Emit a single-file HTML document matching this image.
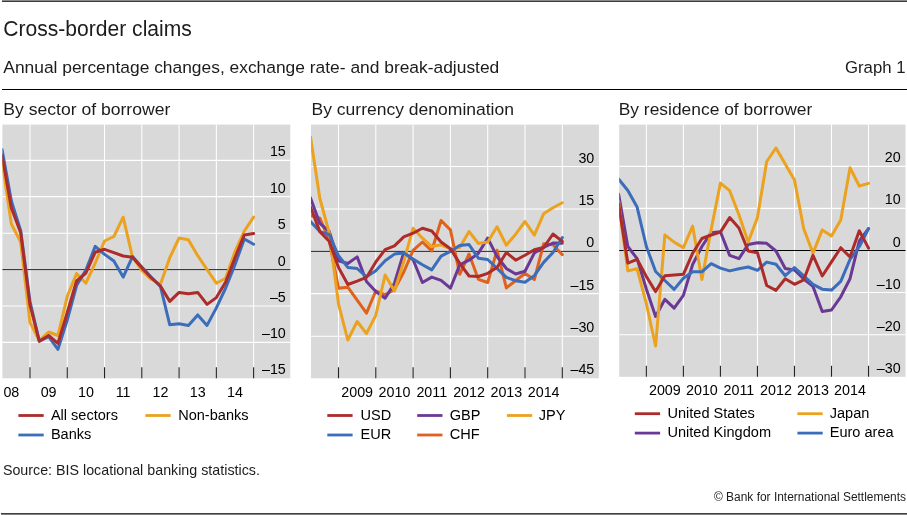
<!DOCTYPE html>
<html lang="en"><head><meta charset="utf-8"><title>Cross-border claims</title>
<style>html,body{margin:0;padding:0;background:#fff}svg{display:block;will-change:transform}.ui{font-family:"Liberation Sans","DejaVu Sans",sans-serif;fill:#1c1c1c}.ax{font-family:"Liberation Sans",sans-serif;font-size:14.3px;fill:#000}.s{fill:none;stroke-width:3.0;stroke-linejoin:round;stroke-linecap:round}</style></head><body>
<svg width="907" height="515" viewBox="0 0 907 515">
<rect width="907" height="515" fill="#fff"/>
<rect x="2" y="0" width="905" height="1" fill="#8a8a8a"/><rect x="2" y="1" width="905" height="1" fill="#3c3c3c"/>
<rect x="2" y="89" width="905" height="1" fill="#000"/>
<rect x="1" y="513" width="906" height="1" fill="#404040"/><rect x="1" y="514" width="906" height="1" fill="#808080"/>
<text class="ui" x="3.3" y="36.4" font-size="21.6" textLength="188.5" lengthAdjust="spacingAndGlyphs">Cross-border claims</text>
<text class="ui" x="3.3" y="73" font-size="17.2" textLength="496" lengthAdjust="spacingAndGlyphs">Annual percentage changes, exchange rate- and break-adjusted</text>
<text class="ui" x="905.5" y="73" font-size="17.2" text-anchor="end" textLength="60.5" lengthAdjust="spacingAndGlyphs">Graph 1</text>
<text class="ui" x="3.3" y="115.3" font-size="16.6" textLength="167" lengthAdjust="spacingAndGlyphs">By sector of borrower</text>
<text class="ui" x="311.5" y="115.3" font-size="16.6" textLength="202.5" lengthAdjust="spacingAndGlyphs">By currency denomination</text>
<text class="ui" x="618.7" y="115.3" font-size="16.6" textLength="193.5" lengthAdjust="spacingAndGlyphs">By residence of borrower</text>
<g>
<rect x="2.40" y="124.60" width="287.90" height="253.70" fill="#d9d9d9"/>
<path d="M30.00 124.60V378.30M67.27 124.60V378.30M104.54 124.60V378.30M141.81 124.60V378.30M179.08 124.60V378.30M216.35 124.60V378.30M253.62 124.60V378.30" stroke="#fff" stroke-width="1.05" fill="none"/>
<path d="M2.40 160.40H290.30M2.40 196.60H290.30M2.40 233.20H290.30M2.40 306.00H290.30M2.40 342.30H290.30" stroke="#fff" stroke-width="1.15" fill="none"/>
<path d="M2.40 269.60H290.30" stroke="#2a2a2a" stroke-width="1" fill="none"/>
<path d="M30.00 367.30V378.30M67.27 367.30V378.30M104.54 367.30V378.30M141.81 367.30V378.30M179.08 367.30V378.30M216.35 367.30V378.30M253.62 367.30V378.30" stroke="#222" stroke-width="1.1" fill="none"/>
<clipPath id="c1"><rect x="2.40" y="124.60" width="287.90" height="253.70"/></clipPath>
<g clip-path="url(#c1)">
<polyline class="s" stroke="#eba21f" points="2.05,161.00 11.37,224.00 20.69,242.00 30.00,322.50 39.32,340.50 48.64,332.00 57.95,335.50 67.27,296.30 76.59,273.60 85.91,283.20 95.23,263.00 104.54,241.00 113.86,236.50 123.18,217.20 132.50,257.00 141.81,270.50 151.13,279.30 160.45,284.30 169.77,257.70 179.08,238.00 188.40,239.70 197.72,255.70 207.04,269.50 216.35,283.20 225.67,278.20 234.99,251.60 244.31,231.00 253.62,217.20"/>
<polyline class="s" stroke="#3b6dba" points="2.05,149.50 11.37,201.00 20.69,230.60 30.00,301.50 39.32,341.20 48.64,336.60 57.95,349.30 67.27,320.00 76.59,285.50 85.91,270.00 95.23,246.40 104.54,254.40 113.86,261.00 123.18,277.10 132.50,256.60 141.81,267.00 151.13,277.00 160.45,286.50 169.77,324.80 179.08,323.70 188.40,325.40 197.72,314.90 207.04,325.40 216.35,307.90 225.67,288.00 234.99,264.70 244.31,239.00 253.62,244.30"/>
<polyline class="s" stroke="#ad2b2b" points="2.05,155.50 11.37,208.00 20.69,232.80 30.00,305.00 39.32,341.30 48.64,335.50 57.95,343.30 67.27,312.50 76.59,281.00 85.91,273.00 95.23,252.20 104.54,249.30 113.86,252.60 123.18,256.00 132.50,257.30 141.81,267.70 151.13,277.70 160.45,286.00 169.77,301.40 179.08,292.40 188.40,293.80 197.72,292.40 207.04,304.40 216.35,297.60 225.67,282.10 234.99,257.70 244.31,234.90 253.62,233.50"/>
</g>
<text class="ax" x="285.80" y="156.40" text-anchor="end">15</text>
<text class="ax" x="285.80" y="192.60" text-anchor="end">10</text>
<text class="ax" x="285.80" y="229.20" text-anchor="end">5</text>
<text class="ax" x="285.80" y="265.60" text-anchor="end">0</text>
<text class="ax" x="285.80" y="302.00" text-anchor="end">–5</text>
<text class="ax" x="285.80" y="338.30" text-anchor="end">–10</text>
<text class="ax" x="285.80" y="374.30" text-anchor="end">–15</text>
<text class="ax" x="11.36" y="396.60" text-anchor="middle">08</text>
<text class="ax" x="48.64" y="396.60" text-anchor="middle">09</text>
<text class="ax" x="85.91" y="396.60" text-anchor="middle">10</text>
<text class="ax" x="123.17" y="396.60" text-anchor="middle">11</text>
<text class="ax" x="160.44" y="396.60" text-anchor="middle">12</text>
<text class="ax" x="197.72" y="396.60" text-anchor="middle">13</text>
<text class="ax" x="234.99" y="396.60" text-anchor="middle">14</text>
</g>
<g>
<rect x="311.00" y="124.60" width="287.90" height="253.70" fill="#d9d9d9"/>
<path d="M338.50 124.60V378.30M375.80 124.60V378.30M413.10 124.60V378.30M450.40 124.60V378.30M487.70 124.60V378.30M525.00 124.60V378.30M562.30 124.60V378.30" stroke="#fff" stroke-width="1.05" fill="none"/>
<path d="M311.00 166.50H598.90M311.00 209.00H598.90M311.00 293.60H598.90M311.00 336.20H598.90" stroke="#fff" stroke-width="1.15" fill="none"/>
<path d="M311.00 251.40H598.90" stroke="#2a2a2a" stroke-width="1" fill="none"/>
<path d="M338.50 367.30V378.30M375.80 367.30V378.30M413.10 367.30V378.30M450.40 367.30V378.30M487.70 367.30V378.30M525.00 367.30V378.30M562.30 367.30V378.30" stroke="#222" stroke-width="1.1" fill="none"/>
<clipPath id="c2"><rect x="311.00" y="124.60" width="287.90" height="253.70"/></clipPath>
<g clip-path="url(#c2)">
<polyline class="s" stroke="#e0611c" points="310.52,215.50 319.85,218.20 329.17,240.00 338.50,288.30 347.82,287.20 357.15,300.10 366.47,313.20 375.80,291.00 385.12,294.90 394.45,289.50 403.77,272.00 413.10,250.40 422.42,242.00 431.75,250.90 441.07,220.50 450.40,229.90 459.72,274.30 469.05,254.00 478.38,279.30 487.70,282.50 497.02,250.30 506.35,287.90 515.67,280.50 525.00,273.50 534.32,279.60 543.65,243.80 552.97,244.70 562.30,254.70"/>
<polyline class="s" stroke="#6a3996" points="310.52,198.00 319.85,223.40 329.17,231.30 338.50,260.80 347.82,263.50 357.15,256.90 366.47,281.50 375.80,291.60 385.12,298.20 394.45,283.30 403.77,252.50 413.10,259.80 422.42,282.50 431.75,277.10 441.07,280.40 450.40,288.20 459.72,264.90 469.05,260.20 478.38,253.30 487.70,238.10 497.02,256.50 506.35,268.50 515.67,274.00 525.00,271.30 534.32,253.00 543.65,247.50 552.97,243.00 562.30,243.30"/>
<polyline class="s" stroke="#eba21f" points="310.52,137.00 319.85,198.50 329.17,232.60 338.50,303.80 347.82,340.00 357.15,321.50 366.47,333.50 375.80,315.40 385.12,275.00 394.45,291.00 403.77,261.50 413.10,228.20 422.42,238.20 431.75,246.50 441.07,244.80 450.40,249.00 459.72,247.60 469.05,231.50 478.38,243.50 487.70,242.00 497.02,226.80 506.35,245.20 515.67,234.20 525.00,221.50 534.32,235.20 543.65,213.80 552.97,207.70 562.30,202.70"/>
<polyline class="s" stroke="#3b6dba" points="310.52,221.50 319.85,231.60 329.17,234.50 338.50,255.80 347.82,267.40 357.15,268.50 366.47,276.80 375.80,270.70 385.12,260.80 394.45,254.10 403.77,253.00 413.10,258.90 422.42,264.80 431.75,269.90 441.07,256.20 450.40,251.30 459.72,245.40 469.05,244.60 478.38,258.20 487.70,259.50 497.02,268.40 506.35,277.40 515.67,280.70 525.00,282.30 534.32,275.70 543.65,262.40 552.97,252.50 562.30,237.50"/>
<polyline class="s" stroke="#ad2b2b" points="310.52,207.00 319.85,231.60 329.17,241.20 338.50,267.40 347.82,284.50 357.15,281.20 366.47,277.40 375.80,261.90 385.12,249.70 394.45,245.80 403.77,236.80 413.10,233.20 422.42,228.20 431.75,231.00 441.07,242.00 450.40,248.70 459.72,263.40 469.05,276.00 478.38,276.50 487.70,273.30 497.02,267.50 506.35,252.50 515.67,260.20 525.00,255.20 534.32,249.70 543.65,247.50 552.97,234.00 562.30,241.40"/>
</g>
<text class="ax" x="594.30" y="162.50" text-anchor="end">30</text>
<text class="ax" x="594.30" y="205.00" text-anchor="end">15</text>
<text class="ax" x="594.30" y="247.40" text-anchor="end">0</text>
<text class="ax" x="594.30" y="289.60" text-anchor="end">–15</text>
<text class="ax" x="594.30" y="332.20" text-anchor="end">–30</text>
<text class="ax" x="594.30" y="374.30" text-anchor="end">–45</text>
<text class="ax" x="357.15" y="396.60" text-anchor="middle">2009</text>
<text class="ax" x="394.45" y="396.60" text-anchor="middle">2010</text>
<text class="ax" x="431.75" y="396.60" text-anchor="middle">2011</text>
<text class="ax" x="469.05" y="396.60" text-anchor="middle">2012</text>
<text class="ax" x="506.35" y="396.60" text-anchor="middle">2013</text>
<text class="ax" x="543.65" y="396.60" text-anchor="middle">2014</text>
</g>
<g>
<rect x="619.20" y="124.60" width="286.30" height="252.20" fill="#d9d9d9"/>
<path d="M646.35 124.60V376.80M683.38 124.60V376.80M720.41 124.60V376.80M757.44 124.60V376.80M794.47 124.60V376.80M831.50 124.60V376.80M868.53 124.60V376.80" stroke="#fff" stroke-width="1.05" fill="none"/>
<path d="M619.20 166.40H905.50M619.20 208.40H905.50M619.20 292.50H905.50M619.20 334.70H905.50" stroke="#fff" stroke-width="1.15" fill="none"/>
<path d="M619.20 250.50H905.50" stroke="#000" stroke-width="1" fill="none"/>
<path d="M646.35 365.80V376.80M683.38 365.80V376.80M720.41 365.80V376.80M757.44 365.80V376.80M794.47 365.80V376.80M831.50 365.80V376.80M868.53 365.80V376.80" stroke="#222" stroke-width="1.1" fill="none"/>
<clipPath id="c3"><rect x="619.20" y="124.60" width="286.30" height="252.20"/></clipPath>
<g clip-path="url(#c3)">
<polyline class="s" stroke="#6a3996" points="618.58,194.00 627.84,246.50 637.10,258.70 646.35,289.00 655.61,316.50 664.87,299.30 674.12,308.20 683.38,295.40 692.64,264.50 701.90,246.50 711.16,232.70 720.41,231.70 729.67,255.40 738.93,258.70 748.19,244.40 757.44,242.70 766.70,243.30 775.96,251.00 785.22,268.50 794.47,269.90 803.73,279.00 812.99,286.40 822.25,311.50 831.50,310.00 840.76,296.80 850.02,278.70 859.28,241.00 868.53,228.70"/>
<polyline class="s" stroke="#eba21f" points="618.58,201.50 627.84,270.90 637.10,268.80 646.35,303.70 655.61,346.00 664.87,234.90 674.12,242.10 683.38,247.70 692.64,226.10 701.90,279.50 711.16,229.50 720.41,183.10 729.67,190.70 738.93,214.80 748.19,242.00 757.44,217.60 766.70,161.50 775.96,148.00 785.22,163.90 794.47,179.90 803.73,228.80 812.99,253.10 822.25,229.90 831.50,236.00 840.76,219.90 850.02,167.70 859.28,186.00 868.53,183.40"/>
<polyline class="s" stroke="#3b6dba" points="618.58,179.00 627.84,190.50 637.10,207.10 646.35,246.50 655.61,271.50 664.87,280.50 674.12,289.40 683.38,278.30 692.64,271.80 701.90,271.80 711.16,263.70 720.41,268.10 729.67,270.90 738.93,268.70 748.19,267.00 757.44,270.30 766.70,262.10 775.96,264.30 785.22,275.70 794.47,267.50 803.73,275.80 812.99,284.30 822.25,289.20 831.50,290.10 840.76,281.30 850.02,259.40 859.28,246.70 868.53,228.50"/>
<polyline class="s" stroke="#ad2b2b" points="618.58,204.00 627.84,263.10 637.10,259.30 646.35,276.50 655.61,291.60 664.87,275.80 674.12,274.90 683.38,274.30 692.64,253.20 701.90,238.50 711.16,235.00 720.41,232.10 729.67,217.60 738.93,228.00 748.19,251.00 757.44,252.70 766.70,285.50 775.96,290.40 785.22,278.80 794.47,284.30 803.73,279.80 812.99,255.40 822.25,276.00 831.50,261.90 840.76,247.70 850.02,257.00 859.28,230.80 868.53,248.10"/>
</g>
<text class="ax" x="900.70" y="162.40" text-anchor="end">20</text>
<text class="ax" x="900.70" y="204.40" text-anchor="end">10</text>
<text class="ax" x="900.70" y="246.50" text-anchor="end">0</text>
<text class="ax" x="900.70" y="288.50" text-anchor="end">–10</text>
<text class="ax" x="900.70" y="330.70" text-anchor="end">–20</text>
<text class="ax" x="900.70" y="372.80" text-anchor="end">–30</text>
<text class="ax" x="664.87" y="395.20" text-anchor="middle">2009</text>
<text class="ax" x="701.90" y="395.20" text-anchor="middle">2010</text>
<text class="ax" x="738.93" y="395.20" text-anchor="middle">2011</text>
<text class="ax" x="775.96" y="395.20" text-anchor="middle">2012</text>
<text class="ax" x="812.99" y="395.20" text-anchor="middle">2013</text>
<text class="ax" x="850.01" y="395.20" text-anchor="middle">2014</text>
</g>
<path d="M18.40 415.50H43.70" stroke="#ad2b2b" stroke-width="2.8" fill="none"/>
<text class="ax" style="font-size:14.55px" x="50.90" y="419.75">All sectors</text>
<path d="M18.40 435.00H43.70" stroke="#3b6dba" stroke-width="2.8" fill="none"/>
<text class="ax" style="font-size:14.55px" x="50.90" y="439.25">Banks</text>
<path d="M145.40 415.50H170.70" stroke="#eba21f" stroke-width="2.8" fill="none"/>
<text class="ax" style="font-size:14.55px" x="178.20" y="419.75">Non-banks</text>
<path d="M327.30 415.50H352.60" stroke="#ad2b2b" stroke-width="2.8" fill="none"/>
<text class="ax" style="font-size:14.55px" x="360.50" y="419.75">USD</text>
<path d="M327.30 435.00H352.60" stroke="#3b6dba" stroke-width="2.8" fill="none"/>
<text class="ax" style="font-size:14.55px" x="360.50" y="439.25">EUR</text>
<path d="M417.20 415.50H442.50" stroke="#6a3996" stroke-width="2.8" fill="none"/>
<text class="ax" style="font-size:14.55px" x="449.80" y="419.75">GBP</text>
<path d="M417.20 435.00H442.50" stroke="#e0611c" stroke-width="2.8" fill="none"/>
<text class="ax" style="font-size:14.55px" x="449.80" y="439.25">CHF</text>
<path d="M506.90 415.50H532.20" stroke="#eba21f" stroke-width="2.8" fill="none"/>
<text class="ax" style="font-size:14.55px" x="538.80" y="419.75">JPY</text>
<path d="M634.80 413.70H660.10" stroke="#ad2b2b" stroke-width="2.8" fill="none"/>
<text class="ax" style="font-size:14.55px" x="667.50" y="417.95">United States</text>
<path d="M634.80 433.10H660.10" stroke="#6a3996" stroke-width="2.8" fill="none"/>
<text class="ax" style="font-size:14.55px" x="667.50" y="437.35">United Kingdom</text>
<path d="M797.40 413.70H822.70" stroke="#eba21f" stroke-width="2.8" fill="none"/>
<text class="ax" style="font-size:14.55px" x="829.70" y="417.95">Japan</text>
<path d="M797.40 433.10H822.70" stroke="#3b6dba" stroke-width="2.8" fill="none"/>
<text class="ax" style="font-size:14.55px" x="829.70" y="437.35">Euro area</text>
<text class="ui" x="2.9" y="474.7" font-size="14.6" textLength="257" lengthAdjust="spacingAndGlyphs">Source: BIS locational banking statistics.</text>
<text class="ui" x="906" y="501.4" font-size="12" text-anchor="end" textLength="192" lengthAdjust="spacingAndGlyphs">© Bank for International Settlements</text>
</svg></body></html>
